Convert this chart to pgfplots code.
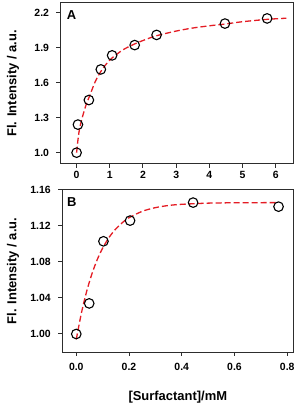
\documentclass[border=0pt]{standalone}
\usepackage{fontspec}
\setmainfont{Liberation Sans}
\usepackage{pgfplots}
\pgfplotsset{compat=1.18}
\definecolor{fitred}{RGB}{228,28,36}
\definecolor{axgray}{RGB}{45,45,45}
\pgfplotsset{
  common/.style={
    scale only axis,
    axis line style={line width=1bp, axgray},
    tick align=outside, tick pos=left,
    major tick length=4bp,
    tick style={line width=1bp, axgray},
    ticklabel style={font=\bfseries\fontsize{10.5}{11}\selectfont},
    label style={font=\bfseries\fontsize{13}{14}\selectfont},
    /pgf/number format/assume math mode=true,
  },
  fit/.style={fitred, line width=1.3bp, dash pattern=on 6bp off 3bp, smooth, tension=0.5, no marks},
  pts/.style={only marks, mark=o, mark size=4.8bp, mark options={line width=1.1bp, black}},
}
\begin{document}
\begin{tikzpicture}
% Panel A
\begin{axis}[common,
  at={(60bp,243bp)}, anchor=south west,
  width=233bp, height=161bp,
  xmin=-0.5, xmax=6.52, ymin=0.903, ymax=2.28,
  xtick={0,1,2,3,4,5,6},
  ytick={1.0,1.3,1.6,1.9,2.2},
  yticklabel style={xshift=-3.5bp, /pgf/number format/fixed, /pgf/number format/fixed zerofill, /pgf/number format/precision=1},
  ylabel={Fl. Intensity / a.u.},
  ylabel style={at={(axis description cs:-0.202,0.5)}, anchor=center},
]
\addplot[fit] coordinates {
(0,1.0) (0.05,1.13) (0.1,1.22) (0.2,1.33) (0.3,1.42) (0.4,1.49) (0.55,1.60)
(0.72,1.69) (0.9,1.76) (1.07,1.81) (1.4,1.88) (1.75,1.93) (2.1,1.97) (2.41,2.0)
(3.0,2.04) (3.5,2.066) (4.0,2.085) (4.47,2.10) (5.0,2.12) (5.74,2.14) (6.32,2.15)
};
\addplot[pts] coordinates {
(0,1.0) (0.04,1.24) (0.37,1.45) (0.73,1.712) (1.07,1.832) (1.75,1.92) (2.41,2.007) (4.47,2.104) (5.74,2.148)
};
\node[font=\bfseries\fontsize{13}{14}\selectfont] at (axis description cs:0.05,0.925) {A};
\end{axis}
% Panel B
\begin{axis}[common,
  at={(62.3bp,55bp)}, anchor=south west,
  width=231bp, height=162bp,
  xmin=-0.053, xmax=0.823, ymin=0.980, ymax=1.16,
  xtick={0,0.2,0.4,0.6,0.8},
  ytick={1.00,1.04,1.08,1.12,1.16},
  xticklabel style={yshift=-3.5bp, /pgf/number format/fixed, /pgf/number format/fixed zerofill, /pgf/number format/precision=1},
  yticklabel style={xshift=-4bp, /pgf/number format/fixed, /pgf/number format/fixed zerofill, /pgf/number format/precision=2},
  ylabel={Fl. Intensity / a.u.},
  ylabel style={at={(axis description cs:-0.213,0.5)}, anchor=center},
  xlabel={[Surfactant]/mM},
  xlabel style={at={(axis description cs:0.5,-0.280)}, anchor=center},
]
\addplot[fit] coordinates {
(0,0.994) (0.02,1.024) (0.04,1.048) (0.06,1.0674) (0.08,1.083) (0.10,1.0954)
(0.125,1.1076) (0.15,1.1168) (0.175,1.1238) (0.2,1.1292) (0.25,1.1363) (0.3,1.1404)
(0.35,1.1428) (0.4,1.1441) (0.5,1.1454) (0.6,1.1458) (0.767,1.146)
};
\addplot[pts] coordinates {
(0,1.0) (0.049,1.034) (0.103,1.103) (0.204,1.126) (0.443,1.146) (0.767,1.1415)
};
\node[font=\bfseries\fontsize{13}{14}\selectfont] at (axis description cs:0.041,0.924) {B};
\end{axis}
\pgfresetboundingbox
\path[use as bounding box] (0bp,0bp) rectangle (305bp,407bp);
\end{tikzpicture}
\end{document}
